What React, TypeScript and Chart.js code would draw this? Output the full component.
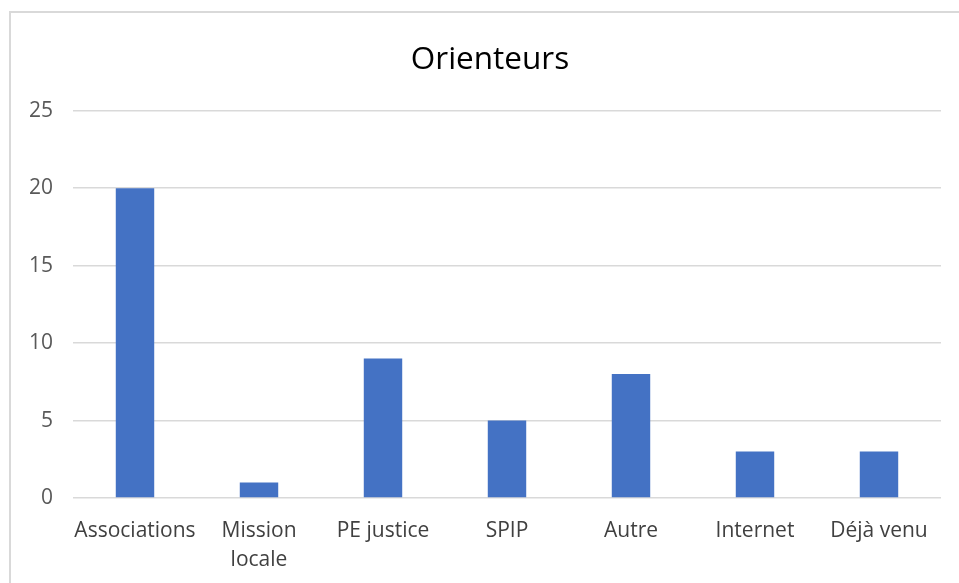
import React, { useEffect, useRef } from "react";
import { Chart, registerables } from "chart.js";

Chart.register(...registerables);

const TITLE = "Orienteurs";
const CATEGORIES: (string | string[])[] = [
  "Associations",
  ["Mission", "locale"],
  "PE justice",
  "SPIP",
  "Autre",
  "Internet",
  "Déjà venu",
];
const VALUES = [20, 1, 9, 5, 8, 3, 3];
const Y_MIN = 0;
const Y_MAX = 25;
const Y_STEP = 5;

export default function App() {
  const ref = useRef<HTMLCanvasElement | null>(null);

  useEffect(() => {
    if (!ref.current) return;
    const chart = new Chart(ref.current, {
      type: "bar",
      data: {
        labels: CATEGORIES,
        datasets: [
          {
            data: VALUES,
            backgroundColor: "#4472C4",
            borderWidth: 0,
            barPercentage: 0.62,
            categoryPercentage: 0.5,
            yAxisID: "y",
          },
        ],
      },
      options: {
        animation: false,
        responsive: false,
        devicePixelRatio: 1,
        layout: { padding: { left: 21, right: 0, top: 0, bottom: 0 } },
        plugins: {
          legend: { display: false },
          tooltip: { enabled: false },
          title: {
            display: true,
            text: TITLE,
            color: "#000000",
            font: { family: "'Open Sans'", size: 31.5, weight: "normal", lineHeight: 1.2 },
            padding: { top: 41, bottom: 32 },
          },
        },
        scales: {
          x: {
            grid: { display: false, drawTicks: false },
            border: { display: false },
            ticks: {
              color: "#404040",
              font: { family: "'Open Sans'", size: 21, lineHeight: 1.38 },
              padding: 19,
              maxRotation: 0,
              autoSkip: false,
            },
            afterFit: (s: any) => {
              s.height = 85;
            },
          },
          y: {
            position: "left",
            min: Y_MIN,
            max: Y_MAX,
            grid: { color: "#d9d9d9", lineWidth: 1.5, drawTicks: false },
            border: { display: false },
            ticks: {
              stepSize: Y_STEP,
              color: "#595959",
              font: { family: "'Open Sans'", size: 21 },
              padding: 20,
            },
            afterFit: (s: any) => {
              s.width = 52;
            },
          },
          yRight: {
            position: "right",
            display: true,
            grid: { display: false, drawTicks: false },
            border: { display: false },
            ticks: { display: false },
            afterFit: (s: any) => {
              s.width = 18;
            },
          },
        },
      },
    });
    return () => chart.destroy();
  }, []);

  return (
    <div style={{ position: "fixed", left: 0, top: 0, width: 959, height: 583, overflow: "hidden", background: "#fff" }}>
      <div
        style={{
          position: "absolute",
          left: 9,
          top: 11,
          width: 1100,
          height: 700,
          border: "2px solid #d9d9d9",
          boxSizing: "border-box",
        }}
      />
      <canvas
        ref={ref}
        width={959}
        height={583}
        style={{ position: "absolute", left: 0, top: 0, width: 959, height: 583 }}
      />
    </div>
  );
}
